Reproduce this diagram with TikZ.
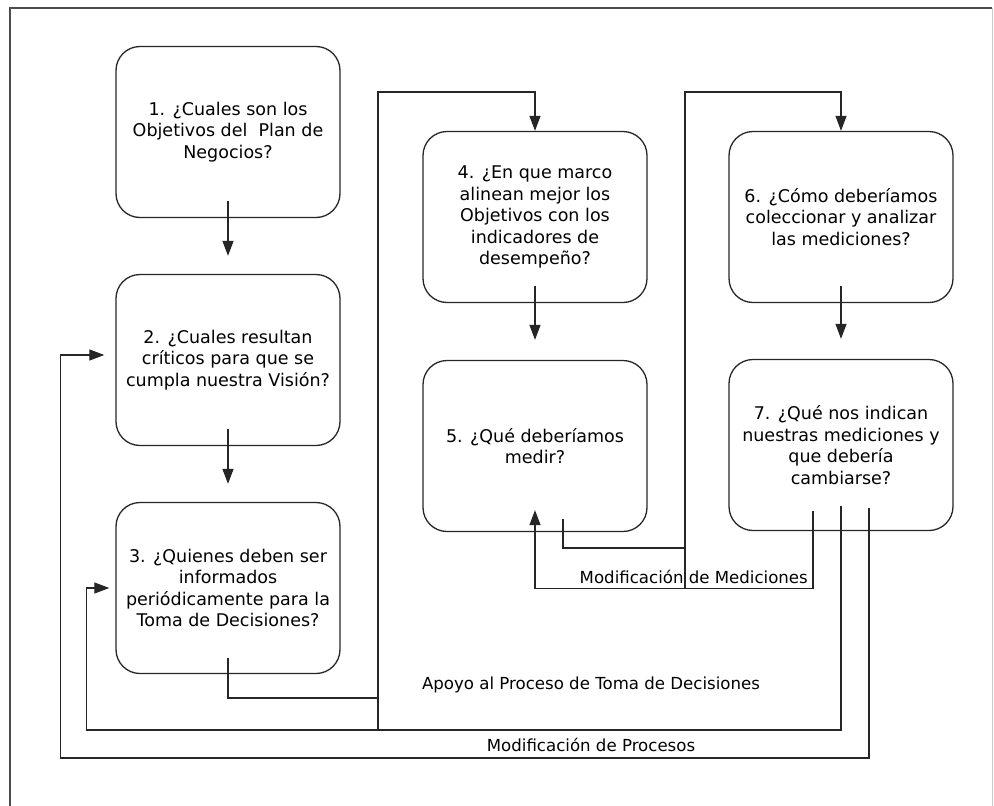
\documentclass[tikz,border=0pt]{standalone}
\usepackage{fontspec}
\setmainfont{DejaVu Sans}
\usetikzlibrary{calc,arrows.meta}

\begin{document}
\begin{tikzpicture}[x=1pt,y=-1pt,
  caja/.style={draw=black!85,line width=1.3pt,rounded corners=24pt,minimum width=224pt,minimum height=171pt,
    align=center,inner sep=0pt,font=\fontsize{17.5}{21.5}\selectfont},
  enlace/.style={black!85,line width=1.2pt},
  flecha/.style={enlace,-{Triangle[length=15pt,width=11pt]}},
  rotulo/.style={inner sep=0pt,font=\fontsize{16.6}{20}\selectfont}]
  \useasboundingbox (0,0) rectangle (994,806);
  % marco
  \draw[line width=1.3pt,black!70] (10,806) -- (10,8) -- (992,8);
  \draw[line width=1pt,black!20] (992,8) -- (992,806);
  % preguntas
  \node[caja] (p1) at (228,132) {1. ¿Cuales son los\\Objetivos del\ \ Plan de\\Negocios?};
  \node[caja] (p2) at (228,360) {2. ¿Cuales resultan\\críticos para que se\\cumpla nuestra Visión?};
  \node[caja] (p3) at (228,588) {3. ¿Quienes deben ser\\informados\\periódicamente para la\\Toma de Decisiones?};
  \node[caja] (p4) at (535,217) {4. ¿En que marco\\alinean mejor los\\Objetivos con los\\indicadores de\\desempeño?};
  \node[caja] (p5) at (535,446) {5. ¿Qué deberíamos\\medir?};
  \node[caja] (p6) at (841,217) {6. ¿Cómo deberíamos\\coleccionar y analizar\\las mediciones?};
  \node[caja] (p7) at (841,445) {7. ¿Qué nos indican\\nuestras mediciones y\\que debería\\cambiarse?};
  % secuencia
  \draw[flecha] ([yshift=17pt]p1.south) -- ([yshift=18pt]p2.north);
  \draw[flecha] ([yshift=17pt]p2.south) -- ([yshift=18pt]p3.north);
  \draw[flecha] ([yshift=16pt]p3.south) |- (378,698) -- (378,92) -| (p4.north);
  \draw[flecha] ([yshift=17pt]p4.south) -- ([yshift=20pt]p5.north);
  \draw[flecha] ([xshift=28pt,yshift=13pt]p5.south) |- (685,548) -- (685,92) -| (p6.north);
  \draw[flecha] ([yshift=17pt]p6.south) -- ([yshift=20pt]p7.north);
  % retornos
  \draw[flecha] ([xshift=-28pt,yshift=20pt]p7.south) |- ($(p5.south)+(0,56)$) -- ([yshift=22pt]p5.south);
  \draw[enlace] (685,548) -- (685,588);
  \draw[flecha] ([yshift=25pt]p7.south) -- (841,730) -| ([xshift=-29pt]p3.west) -- ([xshift=-6pt]p3.west);
  \draw[enlace] (378,698) -- (378,730);
  \draw[flecha] ([xshift=28pt,yshift=23pt]p7.south) -- (869,758) -| ([xshift=-55pt,yshift=5pt]p2.west)
    -- ([xshift=-11pt,yshift=5pt]p2.west);
  % rotulos
  \node[rotulo,anchor=east] (medic) at (808,577) {Modificación de Mediciones};
  \node[rotulo] (apoyo) at (591,685) {Apoyo al Proceso de Toma de Decisiones};
  \node[rotulo] (proc) at (591,745) {Modificación de Procesos};
\end{tikzpicture}
\end{document}
